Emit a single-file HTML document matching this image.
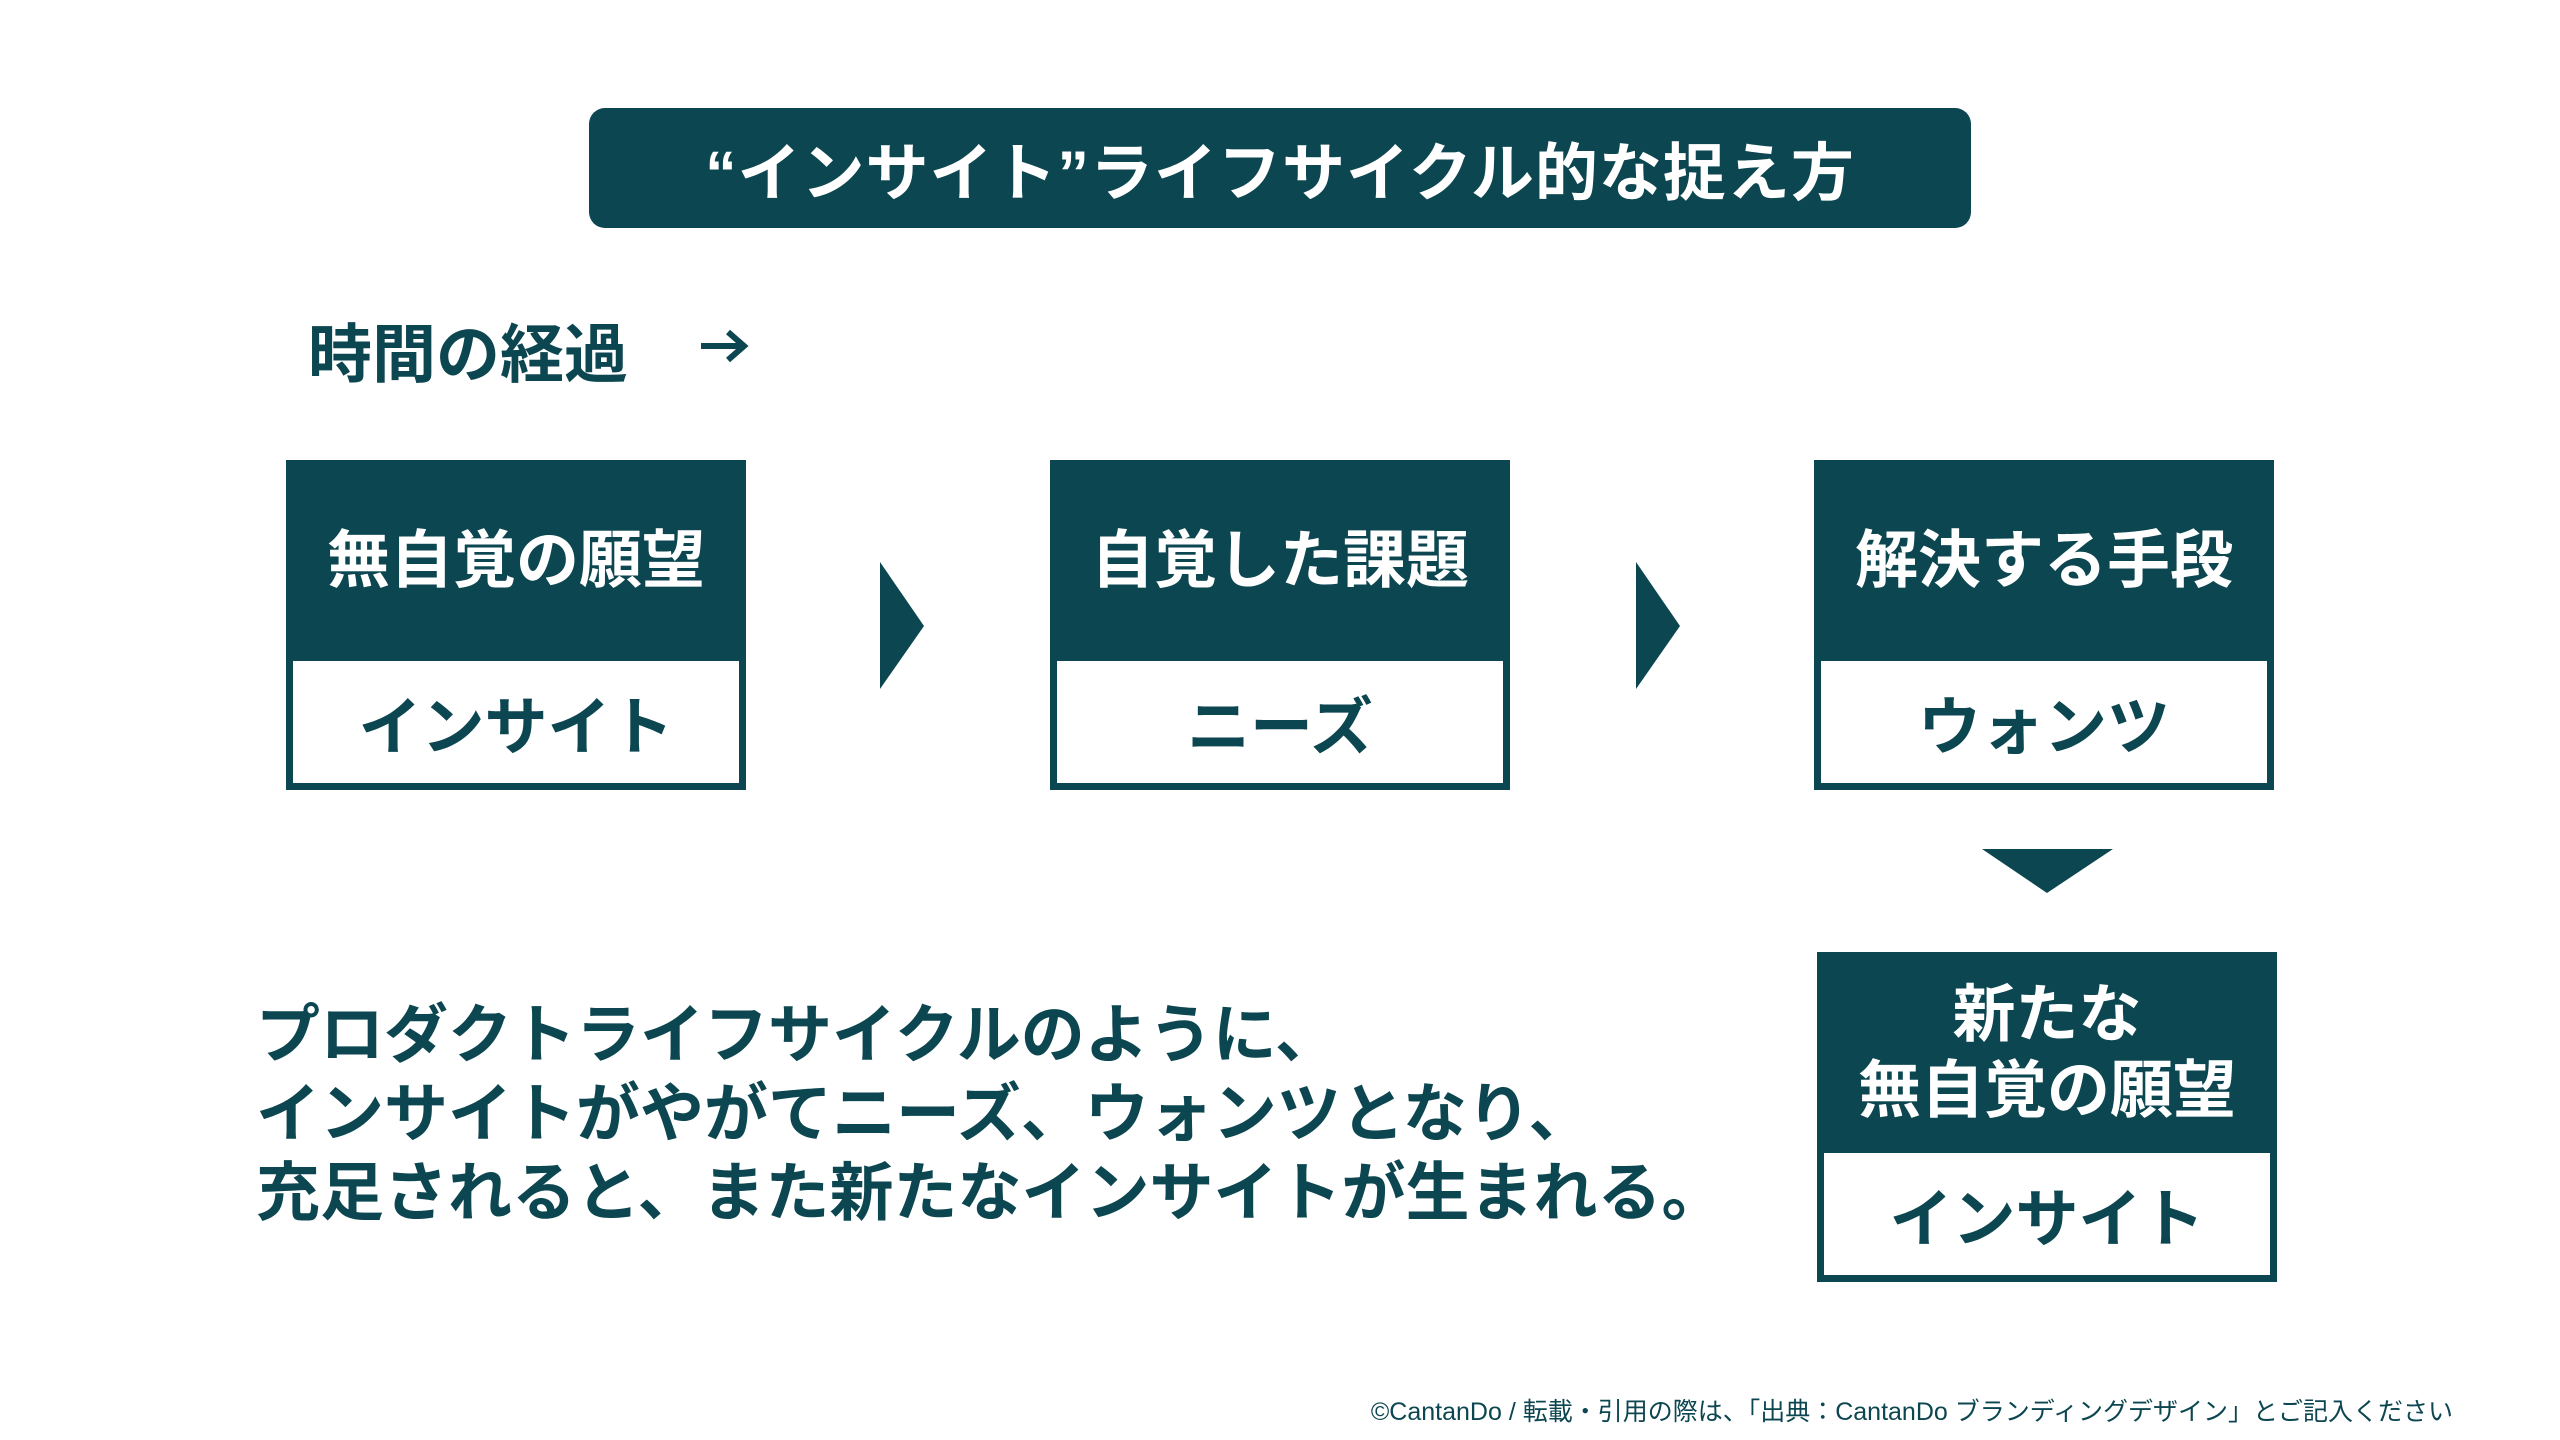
<!DOCTYPE html>
<html><head><meta charset="utf-8"><style>
html,body{margin:0;padding:0}
body{width:2560px;height:1440px;background:#fff;position:relative;overflow:hidden;font-family:"Liberation Sans","Noto Sans CJK JP",sans-serif;color:#0c4650}
.a{position:absolute}
.title{left:589px;top:108px;width:1382px;height:120px;background:#0c4650;border-radius:16px;color:#fff;font-size:63px;font-weight:bold;display:flex;align-items:center;justify-content:center;letter-spacing:1px}
.box{position:absolute;width:460px;height:330px;background:#0c4650}
.box .t{position:absolute;left:0;top:0;width:100%;height:201px;display:flex;align-items:center;justify-content:center;color:#fff;font-size:63px;font-weight:600;line-height:76px;text-align:center}
.box .b{position:absolute;left:7px;right:7px;top:201px;bottom:7px;background:#fff;display:flex;align-items:center;justify-content:center;font-size:63px;font-weight:600;color:#0c4650}
.para{left:256px;top:996px;font-size:64px;line-height:79px;font-weight:bold;white-space:nowrap}
</style></head><body>
<div class="a title">“インサイト”ライフサイクル的な捉え方</div>
<div class="a" style="left:308px;top:304px;font-size:64px;font-weight:bold;white-space:nowrap">時間の経過</div>
<svg class="a" style="left:698px;top:328px" width="52" height="36"><path d="M3 18 H46 M30 4 L46 18 L30 32" stroke="#0c4650" stroke-width="6" fill="none"/></svg>

<div class="box" style="left:286px;top:460px"><div class="t">無自覚の願望</div><div class="b">インサイト</div></div>
<div class="box" style="left:1050px;top:460px"><div class="t">自覚した課題</div><div class="b">ニーズ</div></div>
<div class="box" style="left:1814px;top:460px"><div class="t">解決する手段</div><div class="b">ウォンツ</div></div>
<div class="box" style="left:1817px;top:952px"><div class="t" style="line-height:76px">新たな<br>無自覚の願望</div><div class="b">インサイト</div></div>

<svg class="a" style="left:0;top:0" width="2560" height="1440">
<polygon points="880,562 924,626 880,689" fill="#0c4650"/>
<polygon points="1636,562 1680,626 1636,689" fill="#0c4650"/>
<polygon points="1982,849 2113,849 2047,893" fill="#0c4650"/>
</svg>

<div class="a para">プロダクトライフサイクルのように、<br>インサイトがやがてニーズ、ウォンツとなり、<br>充足されると、また新たなインサイトが生まれる。</div>
<div class="a" style="left:1287px;top:1392px;width:1166px;font-size:25px;text-align:right;white-space:nowrap">©CantanDo / 転載・引用の際は、「出典：CantanDo ブランディングデザイン」とご記入ください</div>
</body></html>
